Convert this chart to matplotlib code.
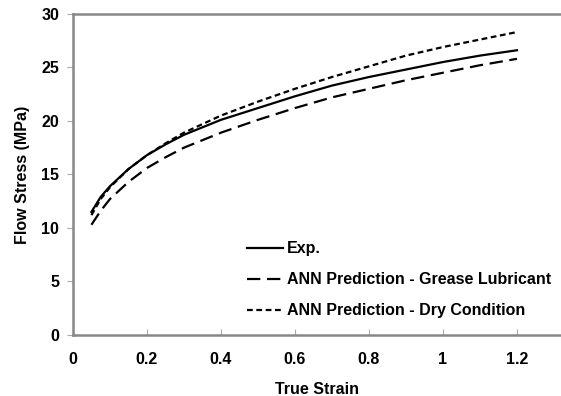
import matplotlib.pyplot as plt

# values
strain = [0.05, 0.075, 0.1, 0.15, 0.2, 0.25, 0.3, 0.4, 0.5, 0.6, 0.7, 0.8, 0.9, 1.0, 1.1, 1.2]
exp_stress = [11.5, 12.9, 13.9, 15.5, 16.8, 17.8, 18.7, 20.1, 21.2, 22.3, 23.3, 24.1, 24.8, 25.5, 26.1, 26.6]
grease_stress = [10.3, 11.6, 12.7, 14.3, 15.6, 16.6, 17.5, 18.9, 20.1, 21.2, 22.2, 23.0, 23.8, 24.5, 25.2, 25.8]
dry_stress = [11.2, 12.7, 13.8, 15.5, 16.8, 17.9, 18.9, 20.5, 21.8, 23.0, 24.1, 25.1, 26.1, 26.9, 27.6, 28.3]

labels = ["Exp.", "ANN Prediction - Grease Lubricant", "ANN Prediction - Dry Condition"]
xticks = [0, 0.2, 0.4, 0.6, 0.8, 1, 1.2]
xticklabels = ["0", "0.2", "0.4", "0.6", "0.8", "1", "1.2"]
yticks = [0, 5, 10, 15, 20, 25, 30]

plt.rcParams['font.family'] = ['Liberation Sans', 'DejaVu Sans']
plt.rcParams['font.weight'] = 'bold'

fig = plt.figure(figsize=(5.61, 3.96), dpi=100)
ax = fig.add_axes([0.130, 0.154, 0.870, 0.811])

ax.plot(strain, exp_stress, color="black", lw=1.6, label=labels[0])
ax.plot(strain, grease_stress, color="black", lw=1.6, dashes=(6, 3), label=labels[1])
ax.plot(strain, dry_stress, color="black", lw=1.6, dashes=(2.6, 1.6), label=labels[2])

ax.set_xlim(0, 1.319)
ax.set_ylim(0, 30)
ax.set_xticks(xticks)
ax.set_xticklabels(xticklabels)
ax.set_yticks(yticks)

for side in ["left", "bottom", "top"]:
    ax.spines[side].set_color("#888888")
    ax.spines[side].set_linewidth(1.8)
ax.spines["right"].set_visible(False)

ax.tick_params(axis='x', direction='in', length=4, color="#aaaaaa", labelsize=11.5, pad=12)
ax.tick_params(axis='y', direction='out', length=4, color="#aaaaaa", labelsize=11.5, pad=6)

ax.set_xlabel("True Strain", fontsize=11.5, fontweight='bold', labelpad=11)
ax.set_ylabel("Flow Stress (MPa)", fontsize=11.5, fontweight='bold', labelpad=8)

ax.legend(loc="upper left", bbox_to_anchor=(0.344, 0.312), frameon=False, fontsize=11.5,
          handlelength=2.25, handletextpad=0.25, labelspacing=1.0, borderaxespad=0)

fig.savefig("out.png", dpi=100)
